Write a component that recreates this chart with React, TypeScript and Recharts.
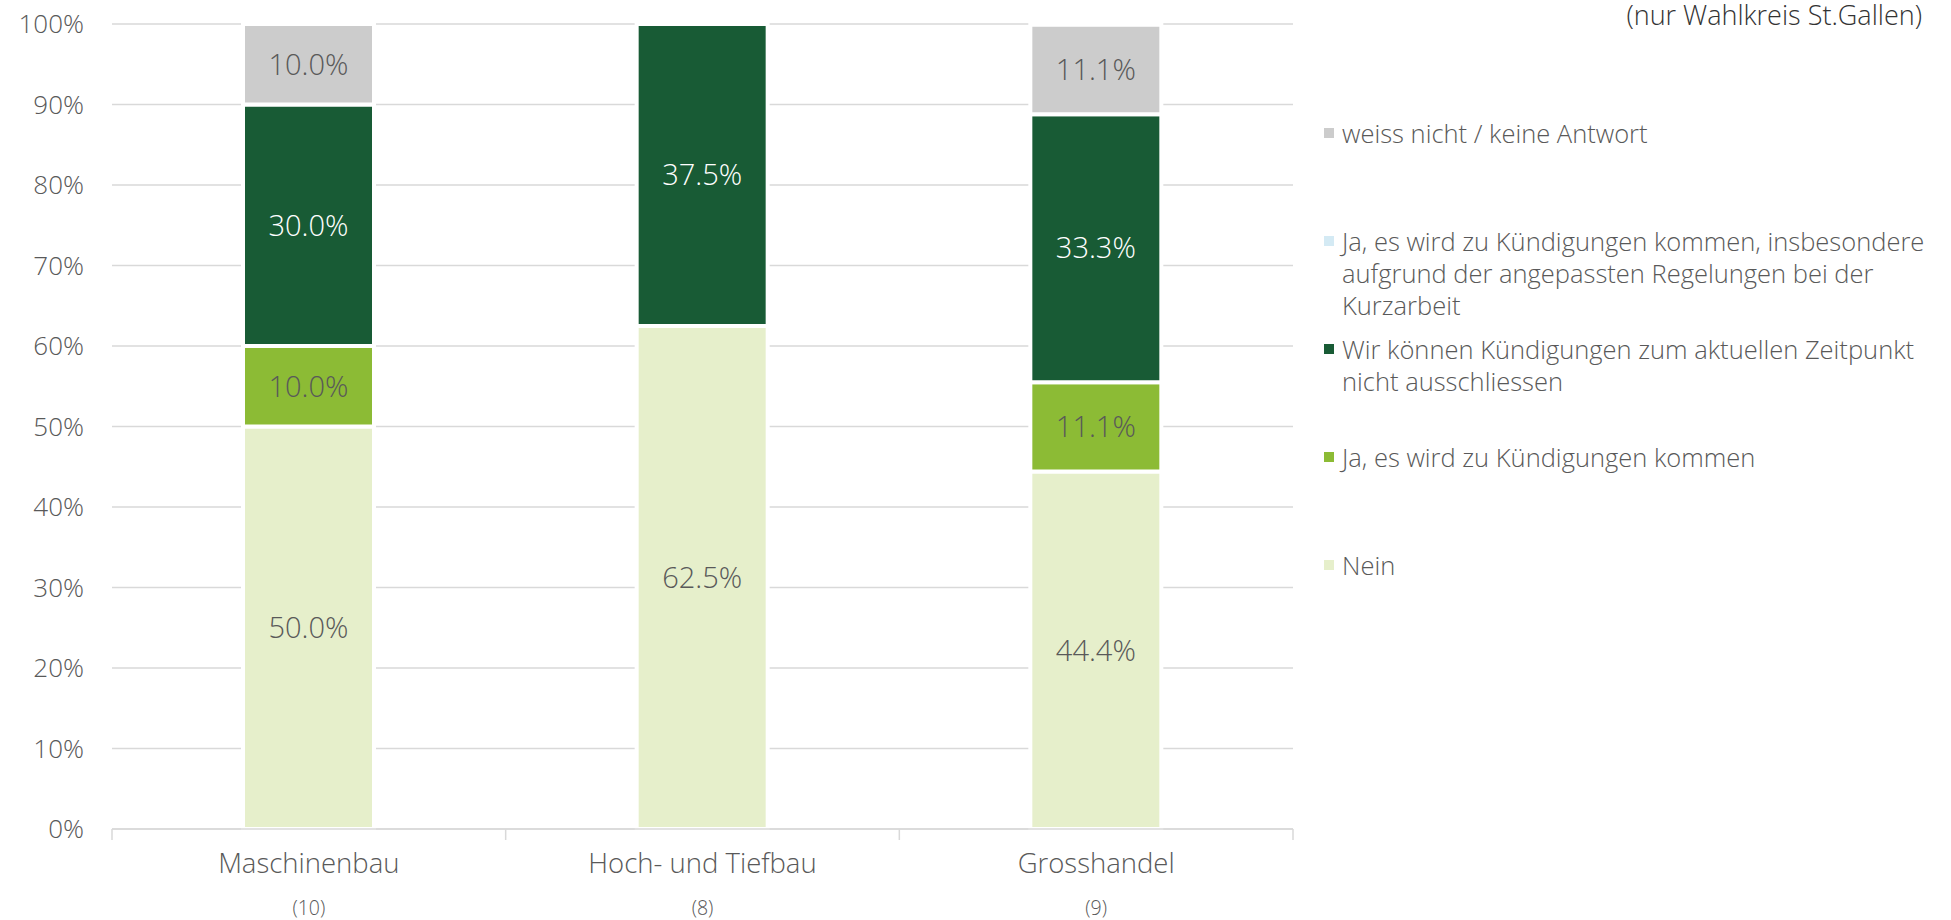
import React from 'react';
import { BarChart, Bar, XAxis, YAxis, CartesianGrid, LabelList } from 'recharts';

const categories = ['Maschinenbau', 'Hoch- und Tiefbau', 'Grosshandel'];
const counts = ['(10)', '(8)', '(9)'];

const nein = [50.0, 62.5, 44.4];
const jaKommen = [10.0, 0, 11.1];
const nichtAusschliessen = [30.0, 37.5, 33.3];
const jaKurzarbeit = [0, 0, 0];
const weissNicht = [10.0, 0, 11.1];

const yTicks = [0, 10, 20, 30, 40, 50, 60, 70, 80, 90, 100];

const W = 1951;
const H = 920;
const MARGIN = { top: 24, right: 658, bottom: 0, left: 0 };
const Y_WIDTH = 112;
const X_HEIGHT = 91;
const BAND = (W - MARGIN.right - Y_WIDTH) / categories.length;

const FONT = '"Open Sans", "Noto Sans", sans-serif';
const TEXT = '#595959';
const GRID = '#d9d9d9';

// series in stacking order (bottom to top)
const series = [
  { key: 'nein', color: '#E6EFCB', label: TEXT },
  { key: 'jaKommen', color: '#8CBB35', label: TEXT },
  { key: 'nichtAusschliessen', color: '#185B35', label: '#ffffff' },
  { key: 'jaKurzarbeit', color: '#D4EAF4', label: TEXT },
  { key: 'weissNicht', color: '#CCCCCC', label: TEXT },
];

const legendLines: Record<string, string[]> = {
  weissNicht: ['weiss nicht / keine Antwort'],
  jaKurzarbeit: ['Ja, es wird zu Kündigungen kommen, insbesondere', 'aufgrund der angepassten Regelungen bei der', 'Kurzarbeit'],
  nichtAusschliessen: ['Wir können Kündigungen zum aktuellen Zeitpunkt', 'nicht ausschliessen'],
  jaKommen: ['Ja, es wird zu Kündigungen kommen'],
  nein: ['Nein'],
};

const data = categories.map((c, i) => ({
  category: c,
  nein: nein[i],
  jaKommen: jaKommen[i],
  nichtAusschliessen: nichtAusschliessen[i],
  jaKurzarbeit: jaKurzarbeit[i],
  weissNicht: weissNicht[i],
}));

const fmt = (v: any) => (typeof v === 'number' && v > 0 ? `${v.toFixed(1)}%` : '');

const CategoryTick = ({ x, y, payload, index }: any) => {
  const half = BAND / 2;
  return (
    <g>
      <line x1={x - half} x2={x - half} y1={y} y2={y + 11} stroke={GRID} strokeWidth={1.5} />
      {index === categories.length - 1 && (
        <line x1={x + half} x2={x + half} y1={y} y2={y + 11} stroke={GRID} strokeWidth={1.5} />
      )}
      <text x={x} y={y + 44} textAnchor="middle" fill={TEXT} fontSize={27.5} fontWeight={300}>
        {payload.value}
      </text>
      <text x={x} y={y + 86} textAnchor="middle" fill={TEXT} fontSize={19.5} fontWeight={300}>
        {counts[index]}
      </text>
    </g>
  );
};

// legend shows the series top-down, like the stack
const ChartLegend = () => (
  <div
    style={{
      position: 'absolute',
      left: 1324,
      top: 117,
      width: 620,
      fontWeight: 300,
      color: TEXT,
      fontSize: 25.5,
    }}
  >
    {[...series].reverse().map(s => (
      <div key={s.key} style={{ height: 108, display: 'flex', alignItems: 'flex-start' }}>
        <div style={{ width: 10, height: 10, background: s.color, marginTop: 11, marginRight: 8, flexShrink: 0 }} />
        <div style={{ lineHeight: '32px' }}>
          {legendLines[s.key].map((l, j) => (
            <div key={j}>{l}</div>
          ))}
        </div>
      </div>
    ))}
  </div>
);

export default function App() {
  return (
    <div style={{ position: 'absolute', left: 0, top: 0, width: W, height: H, background: '#fff', fontFamily: FONT, overflow: 'hidden' }}>
      <div
        style={{
          position: 'absolute',
          right: 29,
          top: 0,
          fontSize: 27,
          fontWeight: 300,
          color: '#333333',
          lineHeight: '30px',
        }}
      >
        (nur Wahlkreis St.Gallen)
      </div>
      <ChartLegend />
      <BarChart width={W} height={H} data={data} margin={MARGIN} barSize={131}>
        <CartesianGrid vertical={false} stroke={GRID} strokeWidth={1.5} />
        <XAxis
          dataKey="category"
          height={X_HEIGHT}
          axisLine={{ stroke: GRID, strokeWidth: 1.5 }}
          tickLine={false}
          tickSize={0}
          tickMargin={0}
          interval={0}
          tick={<CategoryTick />}
        />
        <YAxis
          width={Y_WIDTH}
          domain={[0, 100]}
          ticks={yTicks}
          tickFormatter={(v: number) => `${v}%`}
          axisLine={false}
          tickLine={false}
          tickSize={0}
          tickMargin={28}
          tick={{ fill: TEXT, fontSize: 26, fontWeight: 300 }}
        />
        {series.map(s => (
          <Bar
            key={s.key}
            dataKey={s.key}
            stackId="a"
            fill={s.color}
            stroke="#ffffff"
            strokeWidth={4}
            isAnimationActive={false}
          >
            <LabelList
              dataKey={s.key}
              position="center"
              formatter={fmt}
              fill={s.label}
              fontSize={29}
              fontWeight={300}
            />
          </Bar>
        ))}
      </BarChart>
    </div>
  );
}
